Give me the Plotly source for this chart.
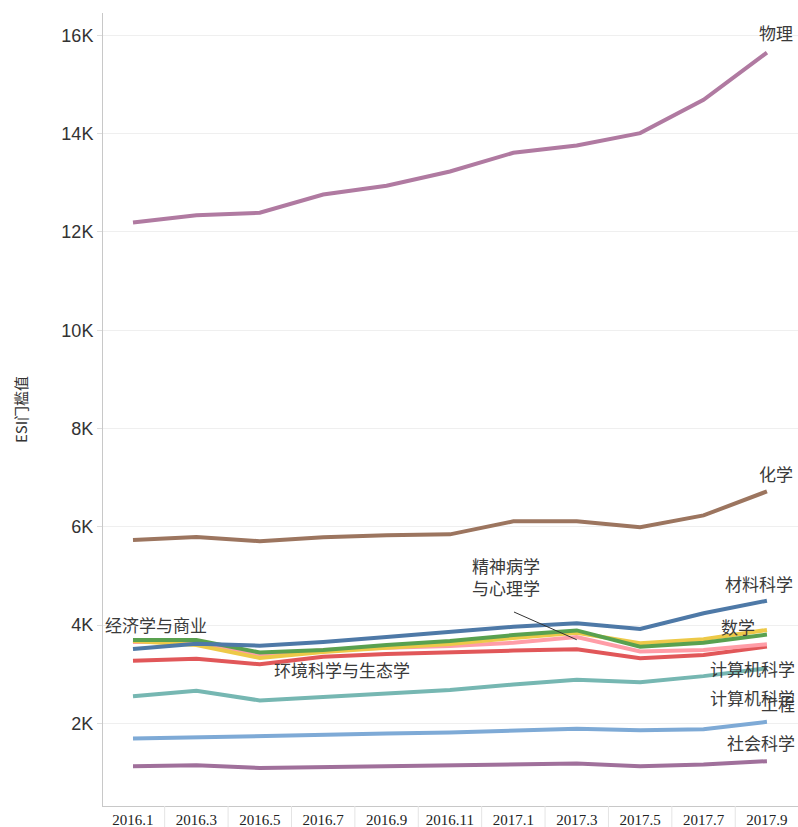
import plotly.graph_objects as go

# Periods on the x axis
periods = ["2016.1", "2016.3", "2016.5", "2016.7", "2016.9", "2016.11",
           "2017.1", "2017.3", "2017.5", "2017.7", "2017.9"]

# ESI threshold per subject
physics = [12190, 12340, 12390, 12760, 12940, 13230, 13610, 13760, 14010, 14690, 15650]
chemistry = [5730, 5790, 5705, 5785, 5825, 5845, 6110, 6110, 5990, 6230, 6720]
materials = [3510, 3620, 3580, 3655, 3755, 3865, 3965, 4035, 3920, 4240, 4495]
economics = [3695, 3695, 3440, 3490, 3595, 3675, 3795, 3890, 3560, 3640, 3805]
mathematics = [3675, 3595, 3330, 3450, 3535, 3615, 3735, 3840, 3630, 3710, 3900]
psychiatry = [3655, 3655, 3370, 3490, 3535, 3575, 3640, 3755, 3460, 3490, 3610]
environment = [3275, 3315, 3200, 3355, 3410, 3450, 3480, 3505, 3325, 3390, 3560]
computer = [2550, 2660, 2465, 2540, 2610, 2680, 2790, 2885, 2835, 2960, 3120]
engineering = [1690, 1720, 1735, 1760, 1790, 1815, 1860, 1890, 1860, 1880, 2030]
social = [1125, 1145, 1090, 1105, 1120, 1140, 1165, 1180, 1125, 1160, 1230]

y_ticks = [2000, 4000, 6000, 8000, 10000, 12000, 14000, 16000]
y_tick_labels = ["2K", "4K", "6K", "8K", "10K", "12K", "14K", "16K"]

series = [
    (social, "社会科学", "#a0709b"),
    (engineering, "工程", "#7eaad6"),
    (computer, "计算机科学", "#76b7b2"),
    (environment, "环境科学与生态学", "#e15759"),
    (psychiatry, "精神病学与心理学", "#ff9da7"),
    (mathematics, "数学", "#edc948"),
    (economics, "经济学与商业", "#59a14f"),
    (materials, "材料科学", "#4e79a7"),
    (chemistry, "化学", "#9c755f"),
    (physics, "物理", "#b07aa1"),
]

fig = go.Figure()
for values, name, color in series:
    fig.add_trace(go.Scatter(
        x=periods, y=values, mode="lines", name=name,
        line=dict(color=color, width=4),
        hoverinfo="x+y+name",
    ))

cjk = "Noto Sans CJK SC, sans-serif"
label_font = dict(family=cjk, size=17, color="#3a3a3a")

# (text, x, y, xanchor)
labels = [
    ("物理", 10.44, 16050, "right"),
    ("化学", 10.44, 7090, "right"),
    ("材料科学", 10.45, 4855, "right"),
    ("数学", 9.84, 3960, "right"),
    ("计算机科学", 10.47, 3125, "right"),
    ("计算机科学", 10.47, 2535, "right"),
    ("工程", 10.47, 2410, "right"),
    ("社会科学", 10.47, 1600, "right"),
    ("经济学与商业", -0.47, 4020, "left"),
    ("环境科学与生态学", 2.19, 3105, "left"),
    ("精神病学<br>与心理学", 5.32, 4980, "left"),
]
for text, x, y, anchor in labels:
    fig.add_annotation(x=x, y=y, xref="x", yref="y", text=text, showarrow=False,
                       xanchor=anchor, yanchor="middle", font=label_font, align="left")

# leader line for the psychiatry label
fig.add_shape(type="line", xref="x", yref="y", x0=6.01, y0=4265, x1=7.0, y1=3700,
              line=dict(color="#333333", width=1))

# header dividers between period labels
for i in range(len(periods) - 1):
    fig.add_shape(type="line", xref="x", yref="paper", x0=i + 0.5, x1=i + 0.5,
                  y0=0, y1=-0.03, line=dict(color="#e4e4e4", width=1))

fig.update_layout(
    width=798, height=827,
    margin=dict(l=103, r=0, t=13, b=21),
    plot_bgcolor="white", paper_bgcolor="white",
    showlegend=False,
    xaxis=dict(
        type="category", range=[-0.473, 10.49],
        showgrid=False, showline=True, linecolor="#c8c8c8", linewidth=1,
        tickfont=dict(family="Liberation Serif, serif", size=15, color="#222222"),
        ticks="",
    ),
    yaxis=dict(
        range=[317, 16455],
        tickvals=y_ticks, ticktext=y_tick_labels,
        showgrid=True, gridcolor="#efefef", gridwidth=1,
        zeroline=False,
        showline=True, linecolor="#c8c8c8", linewidth=1,
        ticks="outside", ticklen=5, tickcolor="#dddddd",
        tickfont=dict(family="Liberation Sans, Arial, sans-serif", size=18, color="#333333"),
        title=dict(text="ESI门槛值", font=dict(family=cjk, size=15, color="#333333"), standoff=30),
    ),
)

fig.write_html("out.html", config={"displayModeBar": False},
               post_script="document.body.style.margin='0';document.body.style.overflow='hidden';")
